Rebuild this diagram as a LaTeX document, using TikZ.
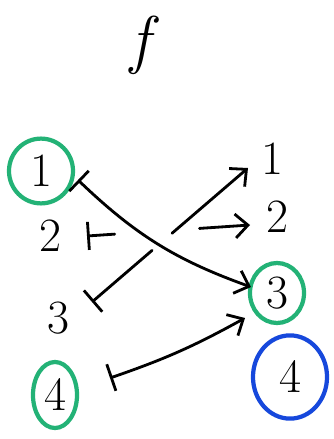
\documentclass[tikz,border=0pt]{standalone}
\usepackage{tikz}
\usetikzlibrary{positioning, calc, shapes.geometric, arrows.meta}
\definecolor{penGreen}{RGB}{35,178,118}
\definecolor{penBlue}{RGB}{22,72,220}

\begin{document}
\begin{tikzpicture}[x=0.025cm, y=-0.025cm,
    digit/.style={font=\fontsize{34}{40}\selectfont, inner sep=2pt},
    ringgreen/.style={digit, ellipse, draw=penGreen, line width=3pt},
    ringblue/.style={digit, ellipse, draw=penBlue, line width=3pt},
    pen/.style={line width=2pt, line cap=round},
    mapsto/.style={pen, {Bar[width=20pt]}-{Straight Barb[length=9pt,width=17pt]}},
    tail/.style={pen, {Bar[width=20pt]}-},
    head/.style={pen, -{Straight Barb[length=9pt,width=17pt]}}]

    \useasboundingbox[fill=white] (0,0) rectangle (334,439);

    % name of the map
    \node[font=\fontsize{46}{52}\selectfont\itshape] (f) at (140,45) {f};

    % LEFT: domain
    \node[ringgreen, minimum width=1.6cm, minimum height=1.62cm] (l1) at (41,171) {1};
    \node[digit] (l2) at (50,236) {2};
    \node[digit] (l3) at (58,318) {3};
    \node[ringgreen, minimum width=1.1cm, minimum height=1.65cm] (l4) at (55,395) {4};

    % RIGHT: codomain
    \node[digit] (r1) at (272,159) {1};
    \node[digit] (r2) at (277,217) {2};
    \node[ringgreen, minimum width=1.35cm, minimum height=1.5cm] (r3) at (277,293) {3};
    \node[ringblue, minimum width=1.85cm, minimum height=2.08cm] (r4) at (290,377) {4};

    % 1 |-> 3 and 4 |-> 3
    \draw[mapsto] ($(l1)+(37,9)$) to[bend right=12] ($(r3)+(-26,-6)$);
    \draw[mapsto] ($(l4)+(55,-17)$) to[bend right=5] ($(r3)+(-32,25)$);

    % 2 |-> 2, broken where it crosses
    \coordinate (b2s) at ($(l2)+(37,0)$);
    \coordinate (b2e) at ($(r2)+(-27,8)$);
    \draw[tail] (b2s) -- ($(b2s)!0.17!(b2e)$);
    \draw[head] ($(b2s)!0.69!(b2e)$) -- (b2e);

    % 3 |-> 1, broken where it crosses
    \coordinate (b3s) at ($(l3)+(34,-16)$);
    \coordinate (b3e) at ($(r1)+(-24,9)$);
    \draw[tail] (b3s) -- ($(b3s)!0.385!(b3e)$);
    \draw[head] ($(b3s)!0.513!(b3e)$) -- (b3e);

\end{tikzpicture}
\end{document}
